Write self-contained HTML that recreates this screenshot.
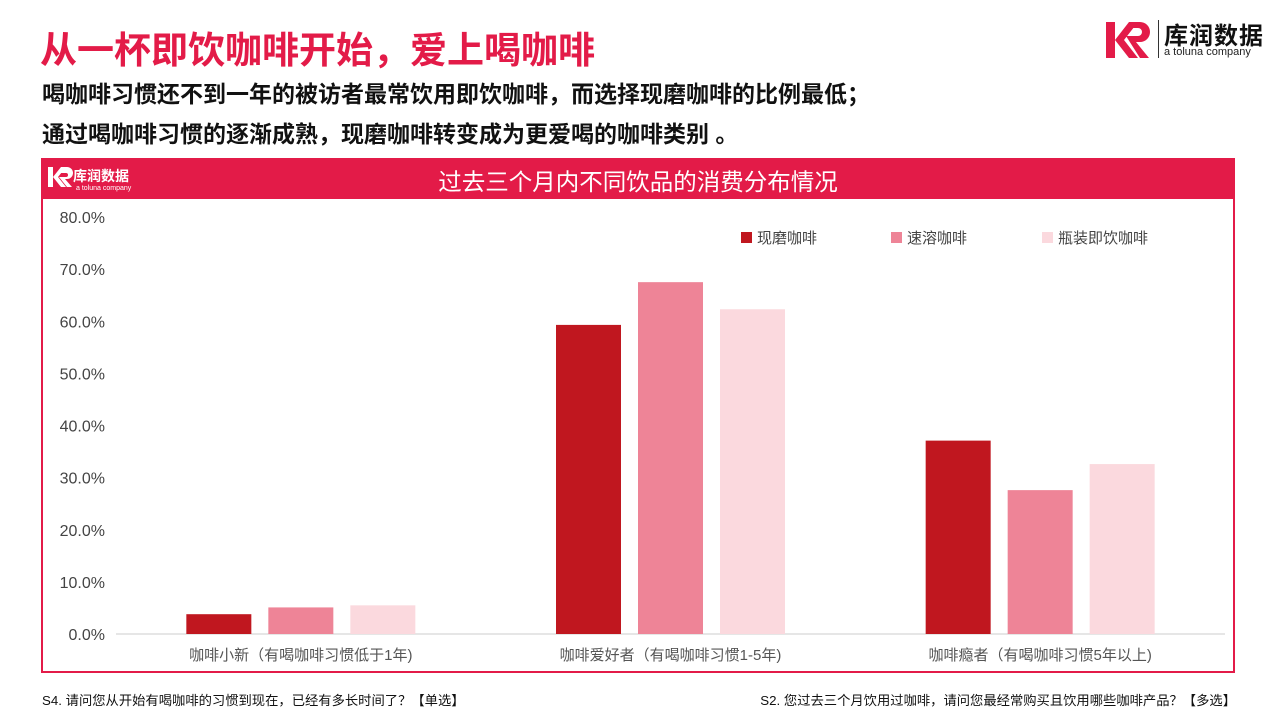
<!DOCTYPE html>
<html><head><meta charset="utf-8"><style>
body{margin:0;width:1280px;height:720px;background:#fff;position:relative;overflow:hidden;font-family:"Liberation Sans","Noto Sans CJK SC",sans-serif}
.abs{position:absolute}
</style></head><body>
<div class="abs" style="left:40px;top:20px;font-size:37px;font-weight:bold;color:#e31b48;white-space:nowrap">从一杯即饮咖啡开始，爱上喝咖啡</div>
<div class="abs" style="left:42px;top:74px;font-size:23px;font-weight:bold;color:#111;line-height:40px;white-space:nowrap">喝咖啡习惯还不到一年的被访者最常饮用即饮咖啡，而选择现磨咖啡的比例最低；<br>通过喝咖啡习惯的逐渐成熟，现磨咖啡转变成为更爱喝的咖啡类别 。</div>
<div class="abs" style="left:1104px;top:20px;width:160px;height:42px">
<svg width="56" height="40" style="position:absolute;left:0;top:0"><path d="M2 2h9v36H2z M11 20l14-18h9L20 20l14 18h-9z M26 2h10a10 10 0 0 1 0 20h-4l13 16h-9L22 16h12a4 4 0 0 0 0-8H26z" fill="#e31b48"/></svg>
<div class="abs" style="left:54px;top:0;width:1px;height:38px;background:#333"></div>
<div class="abs" style="left:60px;top:-4px;font-size:24px;font-weight:bold;color:#111;letter-spacing:1px">库润数据</div>
<div class="abs" style="left:60px;top:26px;font-size:11px;color:#222">a toluna company</div>
</div>
<div class="abs" style="left:41px;top:158px;width:1190px;height:511px;border:2px solid #e31b48"></div>
<div class="abs" style="left:41px;top:158px;width:1194px;height:41px;background:#e31b48;color:#fff">
<div class="abs" style="left:6px;top:8px;font-size:14px;font-weight:bold">
<svg width="26" height="22" style="vertical-align:middle"><path d="M1 1h5v20H1z M6 11l8-10h5l-8 10 8 10h-5z M14 1h6a6 6 0 0 1 0 12h-2l7 8h-5l-8-10h7a2 2 0 0 0 0-4h-5z" fill="#fff"/></svg>库润数据</div>
<div class="abs" style="left:35px;top:27px;font-size:7px">a toluna company</div>
<div class="abs" style="left:0;width:1194px;text-align:center;top:5px;font-size:23.5px">过去三个月内不同饮品的消费分布情况</div>
</div>
<svg class="abs" style="left:0;top:0" width="1280" height="720" id="chart"></svg>
<div class="abs" style="left:42px;top:690px;font-size:13.3px;color:#111">S4. 请问您从开始有喝咖啡的习惯到现在，已经有多长时间了？【单选】</div>
<div class="abs" style="right:44px;top:690px;font-size:13.3px;color:#111">S2. 您过去三个月饮用过咖啡，请问您最经常购买且饮用哪些咖啡产品？【多选】</div>
<script>
const categories=["咖啡小新（有喝咖啡习惯低于1年)","咖啡爱好者（有喝咖啡习惯1-5年)","咖啡瘾者（有喝咖啡习惯5年以上)"];
const seriesNames=["现磨咖啡","速溶咖啡","瓶装即饮咖啡"];
const freshGround=[3.8,59.3,37.1];
const instant=[5.1,67.5,27.6];
const bottled=[5.5,62.3,32.6];
const yTicks=[0,10,20,30,40,50,60,70,80];
const colors=["#c0171f","#ee8497","#fbd9de"];
const series=[freshGround,instant,bottled];
const svg=document.getElementById('chart');const NS="http://www.w3.org/2000/svg";
const x0=116,x1=1225,y0=634,y80=217;
const y=v=>y0-(v/80)*(y0-y80);
const band=(x1-x0)/categories.length;
function el(t,a,txt){const e=document.createElementNS(NS,t);for(const k in a)e.setAttribute(k,a[k]);if(txt!==undefined)e.textContent=txt;svg.appendChild(e);return e;}
yTicks.forEach(t=>{const e=el('text',{x:105,y:y(t)+6,'text-anchor':'end','font-size':16,fill:'#444'},t.toFixed(1)+'%');

});
const ax=el('line',{x1:x0,x2:x1,y1:y0,y2:y0,stroke:'#ccc','stroke-width':1});


const bw=65,gap=17;
categories.forEach((c,i)=>{const cx=x0+band*(i+0.5);
series.forEach((s,j)=>{const bx=cx+(j-1)*(bw+gap)-bw/2;
const r=el('rect',{x:bx,y:y(s[i]),width:bw,height:y0-y(s[i]),fill:colors[j]});

});
const l=el('text',{x:cx,y:660,'text-anchor':'middle','font-size':15,fill:'#555'},c);

});
const lx=[741,891,1042];
seriesNames.forEach((n,j)=>{const r=el('rect',{x:lx[j],y:232,width:11,height:11,fill:colors[j]});


const t=el('text',{x:lx[j]+16,y:243,'font-size':15,fill:'#444'},n);

});
</script>
</body></html>
